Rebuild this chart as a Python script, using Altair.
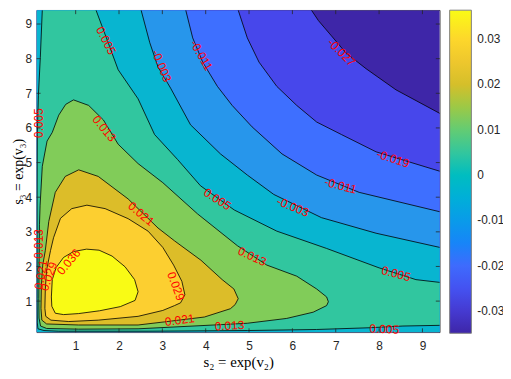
import altair as alt
import pandas as pd

# ---------------- data ----------------
X_MIN, X_MAX = 0.1, 9.4
Y_MIN, Y_MAX = 0.1, 9.4

# contour levels (10 evenly spaced from data min to data max) and their fill colours
levels = [-0.0349, -0.0270, -0.0191, -0.0111, -0.0032, 0.0047, 0.0127, 0.0206, 0.0285, 0.0364]
level_colors = ["#3E26A8", "#4747EB", "#3E6FFF", "#2796EB", "#08B5D0",
                "#31C69F", "#81CC59", "#DCBD29", "#FCCF30", "#F9FB15"]

# level -0.0270 (top edge -> right edge)
c9_x = [6.44, 6.60, 6.90, 7.24, 7.70, 8.39, 9.40]
c9_y = [9.40, 9.10, 8.66, 8.16, 7.71, 7.10, 6.42]
# level -0.0191
c8_x = [4.75, 4.96, 5.23, 5.64, 6.10, 6.56, 7.13, 7.93, 9.40]
c8_y = [9.40, 8.60, 7.90, 7.20, 6.65, 6.17, 5.81, 5.31, 4.75]
# level -0.0111
c7_x = [3.54, 3.70, 3.93, 4.27, 4.61, 5.07, 5.76, 6.56, 7.54, 9.40]
c7_y = [9.40, 8.60, 7.90, 7.20, 6.65, 6.03, 5.25, 4.64, 4.14, 3.58]
# level -0.0032
c6_x = [2.51, 2.71, 2.90, 3.19, 3.65, 4.34, 4.96, 5.57, 6.67, 7.93, 9.40]
c6_y = [9.40, 8.46, 7.76, 7.15, 6.09, 5.25, 4.64, 4.08, 3.41, 2.96, 2.55]
# level 0.0047, outer branch (top edge -> right edge)
c5o_x = [1.47, 1.75, 1.98, 2.44, 2.82, 3.35, 3.88, 4.66, 5.64, 6.79, 8.00, 8.85, 9.40]
c5o_y = [9.40, 8.46, 7.68, 6.84, 5.81, 5.09, 4.33, 3.63, 3.02, 2.52, 1.96, 1.62, 1.54]
# level 0.0047, inner branch along the left and bottom edges (top edge -> right edge)
c5i_x = [0.23, 0.185, 0.14, 0.115, 0.11, 0.11, 0.115, 0.13, 0.27, 0.61, 2.67, 4.96, 6.56, 7.77, 8.55, 9.40]
c5i_y = [9.40, 8.04, 6.93, 5.81, 3.86, 1.07, 0.37, 0.20, 0.15, 0.13, 0.13, 0.15, 0.18, 0.23, 0.28, 0.30]
# level 0.0127 (closed)
c4_x = [0.95, 1.30, 1.64, 1.98, 2.44, 3.01, 3.81, 4.73, 5.41, 6.10, 6.56, 6.79, 6.83, 6.79, 6.48,
        5.87, 4.96, 4.19, 2.44, 1.07, 0.33, 0.19, 0.155, 0.15, 0.155, 0.165, 0.18, 0.23, 0.34, 0.46, 0.61, 0.77]
c4_y = [6.81, 6.65, 6.23, 5.53, 4.97, 4.42, 3.52, 2.60, 2.04, 1.72, 1.35, 1.12, 0.98, 0.87, 0.68,
        0.50, 0.36, 0.31, 0.20, 0.19, 0.21, 0.28, 0.51, 1.07, 1.90, 3.22, 3.77, 4.89, 5.62, 5.87, 6.37, 6.68]
# level 0.0206 (closed)
c3_x = [1.07, 1.52, 2.21, 2.90, 3.28, 3.89, 4.38, 4.65, 4.75, 4.68, 4.57, 3.97, 3.05, 2.44, 1.07,
        0.33, 0.22, 0.20, 0.21, 0.24, 0.30, 0.38, 0.53, 0.76]
c3_y = [4.79, 4.60, 3.95, 3.11, 2.74, 2.18, 1.62, 1.35, 1.07, 0.90, 0.78, 0.54, 0.40, 0.31, 0.31,
        0.34, 0.45, 0.79, 1.46, 2.04, 2.46, 3.30, 4.14, 4.60]
# level 0.0285 (closed)
c2_x = [1.26, 1.68, 2.21, 2.67, 3.01, 3.26, 3.45, 3.52, 3.42, 3.28, 3.01, 2.44, 1.52, 0.84, 0.43,
        0.31, 0.29, 0.30, 0.33, 0.42, 0.49, 0.65, 0.91]
c2_y = [3.77, 3.67, 3.38, 3.02, 2.55, 2.04, 1.57, 1.18, 0.95, 0.87, 0.73, 0.56, 0.45, 0.41, 0.45,
        0.56, 0.79, 1.35, 1.90, 2.46, 2.83, 3.39, 3.67]
# level 0.0364 (closed)
c1_x = [0.44, 0.46, 0.55, 0.72, 0.95, 1.25, 1.54, 1.84, 2.14, 2.36, 2.44, 2.37, 2.03, 1.55, 1.07, 0.72, 0.53, 0.45]
c1_y = [1.12, 1.62, 1.97, 2.26, 2.43, 2.50, 2.47, 2.30, 1.99, 1.62, 1.27, 1.02, 0.84, 0.72, 0.64, 0.61, 0.65, 0.85]

# contour labels
lab_text = ["0.005", "-0.003", "-0.011", "-0.027", "0.013", "0.005", "0.013", "0.021", "0.029", "0.036",
            "0.021", "0.005", "-0.003", "-0.019", "-0.011", "0.013", "0.029", "0.021", "0.013", "0.005", "0.005"]
lab_x = [1.70, 2.98, 3.90, 7.13, 1.66, 0.15, 0.15, 0.20, 0.38, 0.84,
         2.51, 4.27, 6.01, 8.32, 7.11, 5.07, 3.31, 3.40, 4.55, 8.12, 8.39]
lab_y = [8.52, 7.79, 8.10, 8.18, 5.98, 6.14, 2.65, 1.76, 1.71, 2.13,
         3.52, 3.94, 3.72, 5.11, 4.33, 2.29, 1.43, 0.45, 0.29, 0.19, 1.79]
lab_angle = [63, 68, 60, 45, 50, 270, 270, 280, 290, 310,
             40, 33, 22, 18, 15, 25, 70, 352, 357, 2, 15]

x_ticks = [1, 2, 3, 4, 5, 6, 7, 8, 9]
y_ticks = [1, 2, 3, 4, 5, 6, 7, 8, 9]
cbar_ticks = [-0.03, -0.02, -0.01, 0, 0.01, 0.02, 0.03]

# ---------------- chart ----------------
W, H = 408, 326
xs = alt.Scale(domain=[X_MIN, X_MAX], nice=False, zero=False)
ys = alt.Scale(domain=[Y_MIN, Y_MAX], nice=False, zero=False)
cs = alt.Scale(type="linear", domain=levels, range=level_colors)

def poly_df(px, py, lev):
    return pd.DataFrame({"x": px, "y": py, "i": list(range(len(px))), "lev": lev})

polys = [poly_df([X_MIN, X_MAX, X_MAX, X_MIN], [Y_MIN, Y_MIN, Y_MAX, Y_MAX], levels[0])]
for lev, cx, cy in [(levels[1], c9_x, c9_y), (levels[2], c8_x, c8_y),
                    (levels[3], c7_x, c7_y), (levels[4], c6_x, c6_y)]:
    polys.append(poly_df([X_MIN, X_MAX] + cx[::-1] + [X_MIN],
                         [Y_MIN, Y_MIN] + cy[::-1] + [Y_MAX], lev))
polys.append(poly_df(c5i_x + c5o_x[::-1], c5i_y + c5o_y[::-1], levels[5]))
for lev, cx, cy in [(levels[6], c4_x, c4_y), (levels[7], c3_x, c3_y),
                    (levels[8], c2_x, c2_y), (levels[9], c1_x, c1_y)]:
    polys.append(poly_df(cx, cy, lev))

legend = alt.Legend(
    orient="none", legendX=418, legendY=0, direction="vertical", type="gradient",
    gradientLength=327, gradientThickness=22, title=None, values=cbar_ticks,
    labelExpr="replace(format(datum.value, '.2~f'), '\u2212', '-')",
    labelFont="Liberation Sans", labelFontSize=12, labelColor="#262626",
    labelOffset=6, labelOverlap=False, gradientStrokeColor="#808080", gradientStrokeWidth=1,
)

xaxis = alt.Axis(values=x_ticks, format="d", ticks=False, domain=False, grid=False,
                 labelPadding=8, labelFont="Liberation Sans", labelFontSize=12, labelColor="#262626",
                 title="s\u2082 = exp(v\u2082)", titleFont="Liberation Serif", titleFontSize=15,
                 titleFontWeight="normal", titleColor="#000000", titlePadding=4)
yaxis = alt.Axis(values=y_ticks, format="d", ticks=False, domain=False, grid=False,
                 labelPadding=5, labelFont="Liberation Sans", labelFontSize=12, labelColor="#262626",
                 title="s\u2083 = exp(v\u2083)", titleFont="Liberation Serif", titleFontSize=14,
                 titleFontWeight="normal", titleColor="#000000", titlePadding=0)

X = lambda f: alt.X(f, scale=xs, axis=xaxis)
Y = lambda f: alt.Y(f, scale=ys, axis=yaxis)

layers = []
for df in polys:
    layers.append(
        alt.Chart(df).mark_line(filled=True, interpolate="linear-closed", clip=True).encode(
            x=X("x:Q"), y=Y("y:Q"),
            order=alt.Order("i:Q"),
            color=alt.Color("lev:Q", scale=cs, legend=legend),
        )
    )

# contour lines
line_rows = []
def add_line(cid, cx, cy, closed=False):
    px, py = list(cx), list(cy)
    if closed:
        px, py = px + [px[0]], py + [py[0]]
    for i, (a, b) in enumerate(zip(px, py)):
        line_rows.append({"cid": cid, "i": i, "x": a, "y": b})

add_line("c9", c9_x, c9_y)
add_line("c8", c8_x, c8_y)
add_line("c7", c7_x, c7_y)
add_line("c6", c6_x, c6_y)
add_line("c5o", c5o_x, c5o_y)
add_line("c5i", c5i_x, c5i_y)
add_line("c4", c4_x, c4_y, True)
add_line("c3", c3_x, c3_y, True)
add_line("c2", c2_x, c2_y, True)
add_line("c1", c1_x, c1_y, True)

lines = alt.Chart(pd.DataFrame(line_rows)).mark_line(color="black", strokeWidth=0.8, clip=True).encode(
    x=X("x:Q"), y=Y("y:Q"),
    order=alt.Order("i:Q"),
    detail="cid:N",
)

labels_df = pd.DataFrame({"x": lab_x, "y": lab_y, "t": lab_text, "a": lab_angle})
labels = alt.Chart(labels_df).mark_text(color="#FF0000", fontSize=12, font="Liberation Sans",
                                        align="center", baseline="middle").encode(
    x=X("x:Q"), y=Y("y:Q"),
    text="t:N",
    angle=alt.Angle("a:Q", scale=None),
)

xt = pd.DataFrame({"x": x_ticks})
yt = pd.DataFrame({"y": y_ticks})
tick_style = dict(color="#262626", strokeWidth=0.8)
xt_bottom = alt.Chart(xt).mark_rule(**tick_style).encode(
    x=X("x:Q"), y=alt.value(H), y2=alt.value(H - 4))
xt_top = alt.Chart(xt).mark_rule(**tick_style).encode(
    x=X("x:Q"), y=alt.value(0), y2=alt.value(4))
yt_left = alt.Chart(yt).mark_rule(**tick_style).encode(
    y=Y("y:Q"), x=alt.value(0), x2=alt.value(4))
yt_right = alt.Chart(yt).mark_rule(**tick_style).encode(
    y=Y("y:Q"), x=alt.value(W), x2=alt.value(W - 4))

chart = alt.layer(*layers, lines, labels, xt_bottom, xt_top, yt_left, yt_right).properties(
    width=W, height=H,
    padding={"left": 29, "top": 0, "right": 64, "bottom": 37},
    autosize=alt.AutoSizeParams(type="none"),
).configure_view(stroke="#262626", strokeWidth=0.8)

chart.save("out.html", embed_options={"renderer": "svg", "actions": False})
